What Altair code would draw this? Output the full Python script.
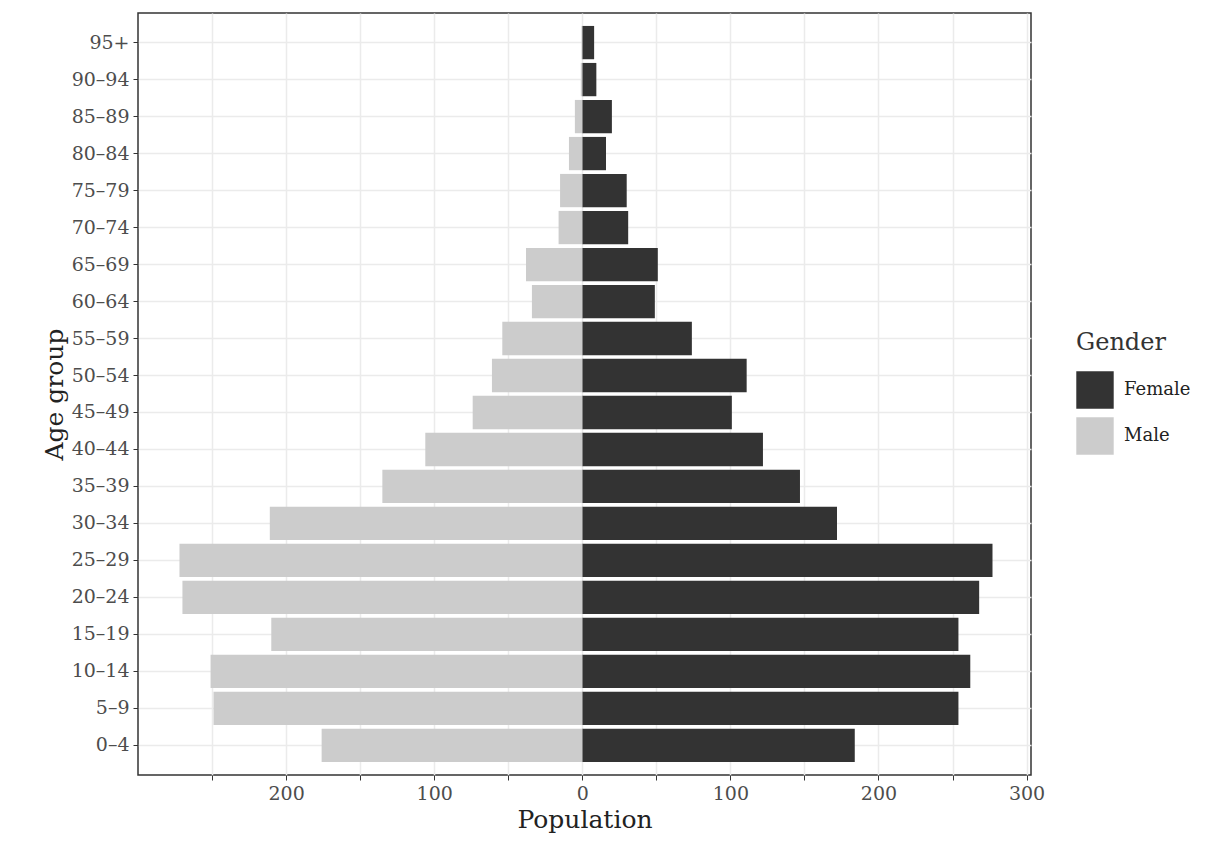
import altair as alt
import pandas as pd

ages = ["0–4", "5–9", "10–14", "15–19", "20–24", "25–29", "30–34", "35–39",
        "40–44", "45–49", "50–54", "55–59", "60–64", "65–69", "70–74",
        "75–79", "80–84", "85–89", "90–94", "95+"]
female = [184, 254, 262, 254, 268, 277, 172, 147, 122, 101, 111, 74, 49, 51,
          31, 30, 16, 20, 9.5, 8]
male = [176, 249, 251, 210, 270, 272, 211, 135, 106, 74, 61, 54, 34, 38,
        16, 15, 9, 5, 1, 0.5]

rows = []
for a, f, m in zip(ages, female, male):
    rows.append({"age": a, "gender": "Female", "pop": f})
    rows.append({"age": a, "gender": "Male", "pop": -m})
df = pd.DataFrame(rows)

font = "DejaVu Serif"
chart = (
    alt.Chart(df)
    .mark_bar()
    .encode(
        x=alt.X("pop:Q", title="Population",
                scale=alt.Scale(domain=[-300, 303], nice=False, zero=False),
                axis=alt.Axis(values=[-250, -200, -150, -100, -50, 0, 50, 100, 150, 200, 250, 300],
                              labelExpr="datum.value % 100 == 0 ? abs(datum.value) : ''",
                              labelFontSize=19, titleFontSize=25)),
        y=alt.Y("age:N", title="Age group", sort=ages[::-1],
                scale=alt.Scale(paddingInner=0.1, paddingOuter=0.35),
                axis=alt.Axis(bandPosition=0.5, grid=True, labelFontSize=19,
                              titleFontSize=25)),
        color=alt.Color("gender:N", title="Gender",
                        scale=alt.Scale(domain=["Female", "Male"], range=["#333333", "#cccccc"]),
                        legend=alt.Legend(orient="none", legendX=938, legendY=318,
                                          symbolType="square", symbolSize=1400,
                                          symbolStrokeWidth=0, titleFontSize=24,
                                          labelFontSize=18, rowPadding=8, titlePadding=16,
                                          labelOffset=10)),
    )
    .properties(width=893, height=762,
                padding={"left": 34, "top": 5, "right": 5, "bottom": 5})
    .configure_view(stroke="#333333", strokeWidth=1.5)
    .configure_axis(labelFont=font, titleFont=font,
                    labelColor="#4d4d4d", titleColor="#222222", titleFontWeight="normal",
                    gridColor="#ebebeb", gridWidth=1.5, domain=False,
                    tickColor="#333333", labelPadding=4)
    .configure_legend(labelFont=font, titleFont=font, titleFontWeight="normal",
                      labelColor="#222222", titleColor="#333333")
)

chart.save("out.html", embed_options={"renderer": "svg", "actions": False})
